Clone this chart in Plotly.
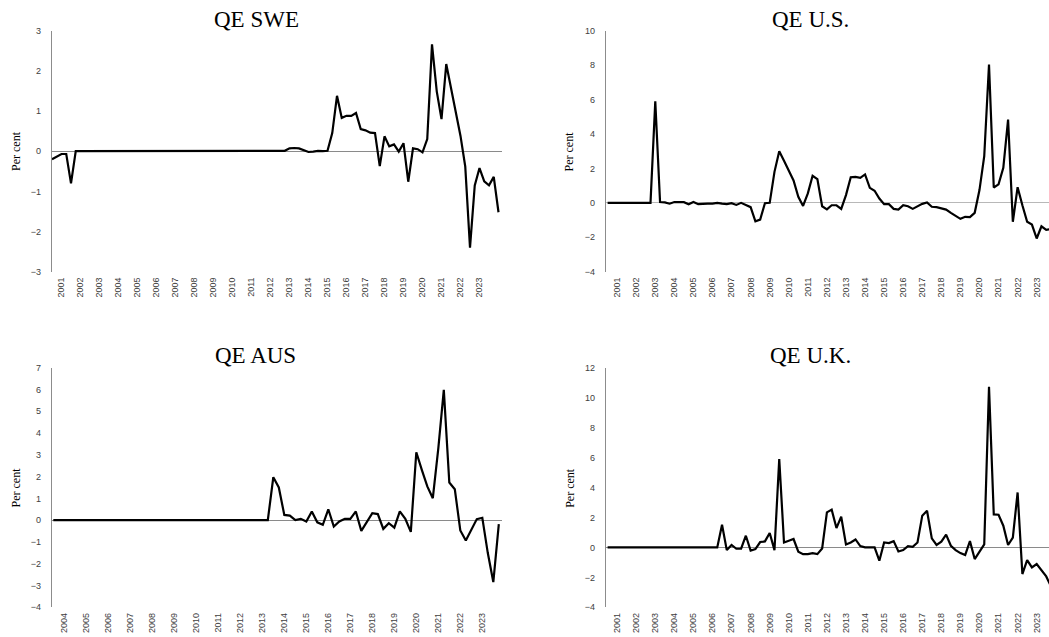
import plotly.graph_objects as go

W, H = 1049, 637

# ---- data (quarterly, per cent) ----
swe_start = (2000, 3)
swe = [-0.2, -0.13, -0.07, -0.07, -0.8, 0.0, 0.0, 0.0, 0.0, 0.0,
       0.0, 0.0, 0.0, 0.0, 0.0, 0.0, 0.0, 0.0, 0.0, 0.0,
       0.0, 0.0, 0.0, 0.0, 0.0, 0.0, 0.0, 0.0, 0.0, 0.0,
       0.0, 0.0, 0.0, 0.0, 0.0, 0.0, 0.0, 0.0, 0.0, 0.0,
       0.0, 0.0, 0.0, 0.0, 0.0, 0.0, 0.0, 0.0, 0.0, 0.01,
       0.07, 0.08, 0.07, 0.02, -0.02, -0.01, 0.01, 0.0, 0.01, 0.45,
       1.38, 0.83, 0.88, 0.88, 0.95, 0.55, 0.52, 0.46, 0.45, -0.37,
       0.37, 0.12, 0.17, -0.01, 0.2, -0.76, 0.07, 0.05, -0.03, 0.3,
       2.66, 1.49, 0.8, 2.17, 1.6, 1.0, 0.38, -0.38, -2.4, -0.85,
       -0.42, -0.75, -0.85, -0.64, -1.52]

us_start = (2000, 3)
us = [0.0, 0.0, 0.0, 0.0, 0.0, 0.0, 0.0, 0.0, 0.0, 0.0,
      5.9, 0.05, 0.03, -0.05, 0.05, 0.03, 0.04, -0.08, 0.05, -0.08,
      -0.04, -0.04, -0.04, 0.0, -0.05, -0.07, -0.02, -0.12, 0.0, -0.14,
      -0.25, -1.07, -0.97, -0.02, 0.0, 1.8, 3.0, 2.45, 1.9, 1.3,
      0.35, -0.18, 0.55, 1.57, 1.38, -0.2, -0.38, -0.14, -0.14, -0.35,
      0.45, 1.49, 1.51, 1.45, 1.65, 0.87, 0.7, 0.25, -0.08, -0.08,
      -0.35, -0.39, -0.14, -0.2, -0.35, -0.21, -0.06, 0.02, -0.23, -0.25,
      -0.3, -0.39, -0.58, -0.78, -0.93, -0.81, -0.83, -0.58, 0.74, 2.71,
      8.04, 0.89, 1.07, 2.03, 4.84, -1.1, 0.91, -0.14, -1.1, -1.26,
      -2.07, -1.36, -1.57, -1.52]

aus_start = (2003, 3)
aus = [0.0, 0.0, 0.0, 0.0, 0.0, 0.0, 0.0, 0.0, 0.0, 0.0,
       0.0, 0.0, 0.0, 0.0, 0.0, 0.0, 0.0, 0.0, 0.0, 0.0,
       0.0, 0.0, 0.0, 0.0, 0.0, 0.0, 0.0, 0.0, 0.0, 0.0,
       0.0, 0.0, 0.0, 0.0, 0.0, 0.0, 0.0, 0.0, 0.0, 0.0,
       1.97, 1.5, 0.24, 0.21, 0.0, 0.06, -0.06, 0.4, -0.1, -0.21,
       0.5, -0.29, -0.06, 0.06, 0.06, 0.4, -0.49, -0.1, 0.32, 0.28,
       -0.4, -0.14, -0.34, 0.4, 0.06, -0.54, 3.12, 2.31, 1.55, 1.01,
       3.3, 5.98, 1.73, 1.42, -0.47, -0.93, -0.44, 0.05, 0.11, -1.51,
       -2.84, -0.18]

uk_start = (2000, 3)
uk = [0.0, 0.0, 0.0, 0.0, 0.0, 0.0, 0.0, 0.0, 0.0, 0.0,
      0.0, 0.0, 0.0, 0.0, 0.0, 0.0, 0.0, 0.0, 0.0, 0.0,
      0.0, 0.0, 0.0, 0.0, 1.51, -0.18, 0.16, -0.09, -0.09, 0.78,
      -0.22, -0.11, 0.36, 0.4, 0.96, -0.18, 5.9, 0.33, 0.45, 0.56,
      -0.29, -0.45, -0.45, -0.38, -0.45, -0.07, 2.34, 2.52, 1.29, 2.05,
      0.2, 0.33, 0.53, 0.09, 0.0, -0.02, 0.0, -0.89, 0.33, 0.29,
      0.42, -0.27, -0.18, 0.09, 0.04, 0.33, 2.12, 2.45, 0.6, 0.16,
      0.38, 0.85, 0.11, -0.18, -0.38, -0.51, 0.42, -0.78, -0.29, 0.2,
      10.73, 2.2, 2.18, 1.45, 0.16, 0.65, 3.67, -1.78, -0.85, -1.34,
      -1.11, -1.56, -1.94, -2.6]

titles = ["QE SWE", "QE U.S.", "QE AUS", "QE U.K."]
years_main = list(range(2001, 2024))
years_aus = list(range(2004, 2024))
y_label = "Per cent"


def quarters(start, n):
    y0, q0 = start
    return [y0 + (q0 - 1 + k) / 4.0 for k in range(n)]


def px(x):
    return x / W


def py(y):
    return 1 - y / H


panels = [
    dict(data=swe, start=swe_start, years=years_main, yr=[-3, 3], dt=1,
         xd=[51.7, 502.0], yd=[30.7, 271.7], xr=[2000.484, 2024.184],
         zc="#8a8a8a", tx=256, ty=19.5, lx=15.8),
    dict(data=us, start=us_start, years=years_main, yr=[-4, 10], dt=2,
         xd=[605.7, 1049.0], yd=[30.7, 271.7], xr=[2000.40, 2023.646],
         zc="#b8b8b8", tx=810.5, ty=19.5, lx=569.3),
    dict(data=aus, start=aus_start, years=years_aus, yr=[-4, 7], dt=1,
         xd=[51.7, 502.0], yd=[367.7, 607.3], xr=[2003.427, 2023.895],
         zc="#8a8a8a", tx=255.5, ty=355.7, lx=15.0),
    dict(data=uk, start=uk_start, years=years_main, yr=[-4, 12], dt=2,
         xd=[605.7, 1049.0], yd=[367.7, 607.3], xr=[2000.40, 2023.646],
         zc="#8a8a8a", tx=810.5, ty=355.7, lx=569.3),
]

tick_font = dict(family="Liberation Sans, Arial, sans-serif", size=9, color="#404040")
serif = "Liberation Serif, Times New Roman, serif"

fig = go.Figure()
layout = dict(
    width=W, height=H, template="none",
    margin=dict(l=0, r=0, t=0, b=0, pad=0),
    paper_bgcolor="white", plot_bgcolor="white",
    showlegend=False, annotations=[],
)

for k, p in enumerate(panels):
    n = k + 1
    xa = "x" if n == 1 else f"x{n}"
    ya = "y" if n == 1 else f"y{n}"
    fig.add_trace(go.Scatter(
        x=quarters(p["start"], len(p["data"])), y=p["data"],
        mode="lines", line=dict(color="black", width=2.2),
        xaxis=xa, yaxis=ya, hoverinfo="skip"))
    xkey = "xaxis" if n == 1 else f"xaxis{n}"
    ykey = "yaxis" if n == 1 else f"yaxis{n}"
    layout[xkey] = dict(
        domain=[px(p["xd"][0]), px(p["xd"][1])], anchor=ya,
        range=p["xr"], showline=False, showgrid=False, zeroline=False,
        ticks="", tickmode="array", tickvals=p["years"],
        ticktext=[str(v) for v in p["years"]], tickangle=-90,
        tickfont=tick_font, ticklabelstandoff=3, automargin=False,
        fixedrange=True)
    layout[ykey] = dict(
        domain=[py(p["yd"][1]), py(p["yd"][0])], anchor=xa,
        range=p["yr"], dtick=p["dt"], tick0=0,
        showline=True, linecolor="#8c8c8c", linewidth=1,
        showgrid=False, zeroline=True, zerolinecolor=p["zc"], zerolinewidth=1,
        ticks="", tickfont=tick_font, ticklabelstandoff=8, automargin=False,
        fixedrange=True)
    layout["annotations"].append(dict(
        text=titles[k], xref="paper", yref="paper",
        x=px(p["tx"]), y=py(p["ty"]), xanchor="center", yanchor="middle",
        showarrow=False, font=dict(family=serif, size=23, color="black")))
    layout["annotations"].append(dict(
        text=y_label, xref="paper", yref="paper", textangle=-90,
        x=px(p["lx"]), y=py((p["yd"][0] + p["yd"][1]) / 2),
        xanchor="center", yanchor="middle",
        showarrow=False, font=dict(family=serif, size=12, color="black")))

fig.update_layout(**layout)
fig.write_html("out.html")
